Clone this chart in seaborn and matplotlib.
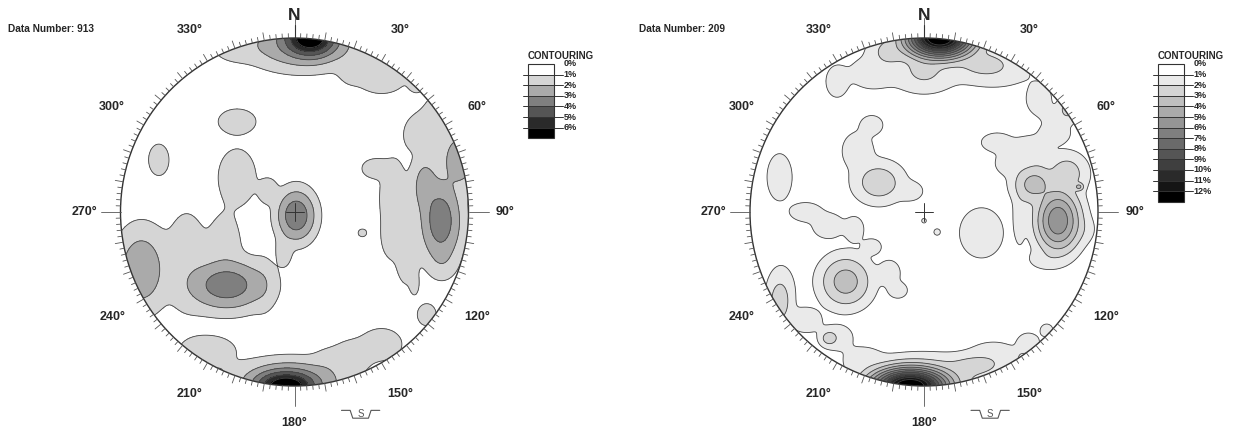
import numpy as np
import matplotlib
matplotlib.use('Agg')
import matplotlib.pyplot as plt
import seaborn as sns

sns.set_style('white')
plt.rcParams['font.family'] = ['Liberation Sans', 'DejaVu Sans']

# ---- data ----
# density peaks on the unit net: centre (u east, v north), peak in %, spread along u and v
left_u = [0.09, 0.05, -0.32, 0.50, 0.70, 0.32,
          -0.05, -0.02, -0.50, 0.50, 0.33, 0.20,
          -0.88, -0.62, -0.40, -0.33, -0.39, -0.18, -0.06, 0.01, -0.15,
          -0.33, -0.78, 0.39,
          0.84, 0.95, 0.75, 0.57, 0.56, 0.72, 0.85, 0.65, 0.69, 0.46, 0.85, 0.76]
left_v = [1.00, 0.97, 0.93, 0.78, 0.74, 0.83,
          -1.00, -0.97, -0.80, -0.76, -0.83, -0.86,
          -0.33, -0.28, -0.20, 0.20, -0.42, -0.42, -0.22, -0.02, 0.12,
          0.52, 0.30, -0.12,
          -0.05, 0.30, 0.15, 0.08, -0.15, 0.45, 0.55, -0.28, -0.42, 0.25, -0.28, -0.59]
left_amp = [7.0, 3.3, 1.5, 1.5, 1.4, 1.4,
            7.0, 3.2, 1.5, 1.5, 1.5, 1.4,
            2.8, 1.5, 1.5, 1.5, 3.6, 1.5, 1.5, 3.8, 1.5,
            1.5, 1.5, 1.1,
            3.6, 2.6, 2.5, 1.5, 1.5, 1.5, 1.5, 1.5, 1.3, 1.5, 1.5, 1.5]
left_su = [0.12, 0.25, 0.14, 0.16, 0.05, 0.08,
           0.14, 0.26, 0.18, 0.13, 0.12, 0.10,
           0.125, 0.13, 0.10, 0.12, 0.19, 0.07, 0.05, 0.09, 0.06,
           0.12, 0.065, 0.055,
           0.10, 0.10, 0.07, 0.09, 0.06, 0.10, 0.12, 0.07, 0.03, 0.08, 0.08, 0.06]
left_sv = [0.085, 0.12, 0.07, 0.11, 0.06, 0.10,
           0.07, 0.10, 0.10, 0.10, 0.10, 0.08,
           0.20, 0.30, 0.20, 0.18, 0.12, 0.15, 0.10, 0.12, 0.08,
           0.08, 0.10, 0.05,
           0.20, 0.15, 0.15, 0.25, 0.12, 0.12, 0.15, 0.15, 0.07, 0.06, 0.10, 0.07]

right_u = [0.09, 0.08, 0.35, -0.20, 0.00,
           -0.50, -0.30, 0.00, 0.40, 0.66, 0.78, 0.83,
           -0.08, 0.00, 0.30, -0.35, 0.40, 0.60,
           -0.82, -0.68, -0.50, -0.83, -0.545, 0.705,
           -0.26, -0.38, -0.30, -0.08, -0.83,
           -0.45, -0.68, -0.55, -0.40, -0.30, -0.20, -0.15,
           0.77, 0.635, 0.82, 0.89, 0.42, 0.60, 0.75, 0.50, 0.66, 0.60, 0.55, 0.90, 0.70,
           0.33, 0.075, 0.00]
right_v = [1.00, 0.95, 0.85, 0.92, 0.82,
           0.75, 0.80, 0.78, 0.80, 0.65, 0.55, 0.60,
           -1.00, -0.95, -0.88, -0.85, -0.82, -0.75,
           -0.45, -0.62, -0.72, -0.52, -0.725, -0.68,
           0.17, 0.35, 0.50, 0.12, 0.20,
           -0.40, 0.00, -0.08, -0.10, -0.20, -0.35, -0.45,
           -0.05, 0.16, 0.22, 0.145, 0.40, 0.38, 0.45, 0.28, 0.30, 0.10, 0.00, -0.10, -0.27,
           -0.12, -0.115, -0.05]
right_amp = [13.5, 3.3, 2.3, 2.3, 2.2,
             1.5, 1.5, 1.5, 1.5, 1.5, 1.5, 2.4,
             13.5, 3.0, 2.3, 1.5, 1.5, 1.5,
             1.5, 1.5, 1.5, 2.5, 2.5, 1.5,
             2.7, 1.5, 1.5, 1.5, 1.5,
             3.5, 1.5, 1.5, 1.5, 1.5, 1.5, 1.5,
             5.8, 3.4, 2.6, 3.2, 1.5, 1.5, 1.5, 1.5, 1.5, 1.5, 1.5, 1.5, 1.5,
             1.5, 1.1, 1.1]
right_su = [0.14, 0.22, 0.15, 0.10, 0.10,
            0.07, 0.14, 0.20, 0.22, 0.08, 0.10, 0.05,
            0.16, 0.28, 0.15, 0.12, 0.15, 0.07,
            0.08, 0.10, 0.10, 0.06, 0.045, 0.04,
            0.12, 0.10, 0.07, 0.08, 0.08,
            0.12, 0.10, 0.10, 0.06, 0.06, 0.07, 0.06,
            0.10, 0.10, 0.10, 0.025, 0.10, 0.10, 0.10, 0.10, 0.08, 0.06, 0.04, 0.08, 0.10,
            0.14, 0.04, 0.03]
right_sv = [0.08, 0.10, 0.07, 0.08, 0.08,
            0.10, 0.10, 0.11, 0.09, 0.10, 0.06, 0.06,
            0.075, 0.10, 0.06, 0.08, 0.08, 0.06,
            0.15, 0.08, 0.08, 0.12, 0.04, 0.04,
            0.10, 0.12, 0.06, 0.06, 0.15,
            0.12, 0.06, 0.08, 0.08, 0.05, 0.08, 0.05,
            0.14, 0.09, 0.10, 0.02, 0.06, 0.06, 0.07, 0.08, 0.10, 0.12, 0.20, 0.08, 0.06,
            0.16, 0.04, 0.03]

left_levels = [0, 1, 2, 3, 4, 5, 6]
right_levels = [0, 1, 2, 3, 4, 5, 6, 7, 8, 9, 10, 11, 12]
data_numbers = [913, 209]
ring_labels = ['30°', '60°', '90°', '120°', '150°', '180°', '210°', '240°', '270°', '300°', '330°']

# ---- geometry (pixels of the 1235x432 picture) ----
R = 174.0
CY = 212.0
W, H = 1235, 432


def density(u, v, cu, cv, amp, su, sv, p=3.0):
    # smooth union of the peaks (p-norm) so each one keeps its own outline
    g = np.zeros_like(u)
    for x0, y0, a, sx, sy in zip(cu, cv, amp, su, sv):
        g += (a * np.exp(-((u - x0) ** 2 / (2 * sx ** 2) + (v - y0) ** 2 / (2 * sy ** 2)))) ** p
    return g ** (1 / p)


def draw_net(ax, cx, px0, px1, cu, cv, amp, su, sv, levels, label_x, leg_x, n):
    P = lambda px, py: ((px - cx) / R, (CY - py) / R)
    ax.set_xlim((px0 - cx) / R, (px1 - cx) / R)
    ax.set_ylim((CY - H) / R, CY / R)
    ax.axis('off')

    grays = sns.blend_palette(['#ffffff', '#000000'], n_colors=len(levels))
    g = np.linspace(-1.02, 1.02, 500)
    U, V = np.meshgrid(g, g)
    Z = density(U, V, cu, cv, amp, su, sv)
    bounds = [-100] + levels[1:] + [1000]
    circ = plt.Circle((0, 0), 1, transform=ax.transData)
    cf = ax.contourf(U, V, Z, levels=bounds, colors=grays)
    cf.set_clip_path(circ)
    cl = ax.contour(U, V, Z, levels=levels[1:], colors='#444444', linewidths=0.6)
    cl.set_clip_path(circ)
    ax.add_patch(plt.Circle((0, 0), 1, fill=False, ec='#333333', lw=1.0))

    # rim ticks
    for d in range(0, 360, 2):
        t = np.deg2rad(d)
        if d % 90 == 0:
            L = 20 / R
        elif d % 10 == 0:
            L = 8 / R
        else:
            L = 4.5 / R
        ax.plot([np.sin(t), (1 + L) * np.sin(t)], [np.cos(t), (1 + L) * np.cos(t)],
                color='#555555', lw=0.6)
    ax.plot([0, 0], [1, 1 + 13 / R], color='#333333', lw=0.8)
    ax.text(0, 1.13, 'N', ha='center', va='center', fontsize=12.5, fontweight='bold')
    for i, lab in enumerate(ring_labels):
        t = np.deg2rad(30 * (i + 1))
        ax.text(1.21 * np.sin(t), 1.21 * np.cos(t), lab, ha='center', va='center',
                fontsize=9, fontweight='bold')

    # centre cross
    a = 9 / R
    ax.plot([-a, a], [0, 0], color='#333333', lw=0.7)
    ax.plot([0, 0], [-a, a], color='#333333', lw=0.7)

    # S symbol
    sx, sy = 0.38, -1.14
    ax.plot([sx - 0.11, sx - 0.06, sx - 0.045, sx + 0.045, sx + 0.06, sx + 0.11],
            [sy, sy, sy - 0.045, sy - 0.045, sy, sy], color='#555555', lw=0.8)
    ax.text(sx, sy - 0.02, 'S', ha='center', va='center', fontsize=7, color='#555555')

    # title
    x, y = P(label_x, 29)
    ax.text(x, y, f'Data Number: {n}', ha='left', va='center', fontsize=7.3, fontweight='bold')

    # legend
    x0, y0 = P(leg_x, 64)
    bw = 25.5 / R
    bh = 10.6 / R
    xc, yc = P(leg_x + 33, 56)
    ax.text(xc, yc, 'CONTOURING', ha='center', va='center', fontsize=7, fontweight='bold')
    for k, lev in enumerate(levels):
        ax.add_patch(plt.Rectangle((x0, y0 - (k + 1) * bh), bw, bh, fc=grays[k], ec='none'))
        yy = y0 - k * bh
        if k > 0:
            ax.plot([x0 - 5 / R, x0 + bw + 9 / R], [yy, yy], color='#333333', lw=0.7)
        ax.text(x0 + bw + 10 / R, yy, f'{lev}%', ha='left', va='center',
                fontsize=6.5, fontweight='bold')
    ax.add_patch(plt.Rectangle((x0, y0 - len(levels) * bh), bw, len(levels) * bh,
                               fill=False, ec='#333333', lw=0.8))


fig = plt.figure(figsize=(W / 100, H / 100), dpi=100)
ax1 = fig.add_axes([0, 0, 617.5 / W, 1])
ax2 = fig.add_axes([617.5 / W, 0, 1 - 617.5 / W, 1])
draw_net(ax1, 294.5, 0, 617.5, left_u, left_v, left_amp, left_su, left_sv,
         left_levels, 8, 528, data_numbers[0])
draw_net(ax2, 924.0, 617.5, 1235, right_u, right_v, right_amp, right_su, right_sv,
         right_levels, 639, 1158, data_numbers[1])
fig.savefig('out.png', dpi=100)
